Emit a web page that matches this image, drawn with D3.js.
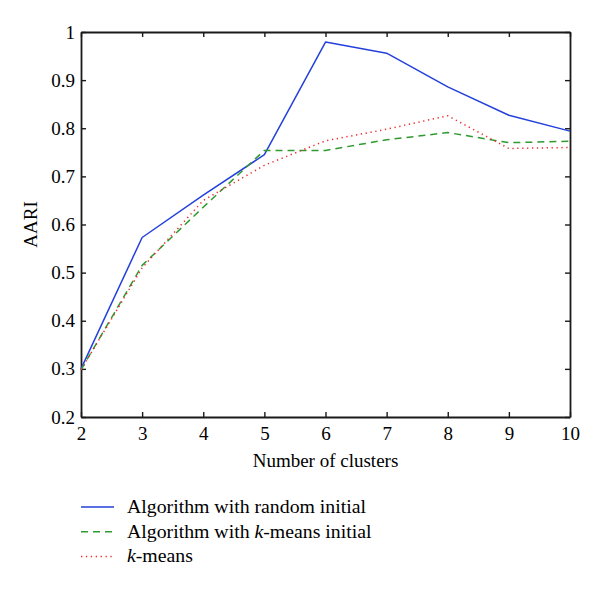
<!DOCTYPE html>
<html>
<head>
<meta charset="utf-8">
<script src="https://cdn.jsdelivr.net/npm/d3@7"></script>
<style>
  body { margin: 0; background: #fff; }
  svg { display: block; }
  text { font-family: "Liberation Serif", "DejaVu Serif", serif; fill: #000; }
  .axis path, .axis line { stroke: #1a1a1a; }
</style>
</head>
<body>
<svg id="chart"></svg>
<script>
// number of clusters
var clusters = [2, 3, 4, 5, 6, 7, 8, 9, 10];

// AARI values
var randomInit = [0.300, 0.573, 0.661, 0.745, 0.979, 0.956, 0.886, 0.827, 0.794];
var kmeansInit = [0.298, 0.515, 0.636, 0.754, 0.754, 0.776, 0.791, 0.770, 0.773];
var kmeansOnly = [0.298, 0.510, 0.650, 0.723, 0.774, 0.798, 0.826, 0.758, 0.760];

var yTicks = [0.2, 0.3, 0.4, 0.5, 0.6, 0.7, 0.8, 0.9, 1];

var seriesNames = ["random", "kmeansInit", "kmeans"];

var svgWidth = 600, svgHeight = 589;
var margin = { top: 32, right: 30, bottom: 172, left: 81 };
var width = svgWidth - margin.left - margin.right;
var height = svgHeight - margin.top - margin.bottom;

var svg = d3.select('#chart')
  .attr("width", svgWidth)
  .attr("height", svgHeight);

var g = svg.append("g")
  .attr("transform", "translate(" + margin.left + "," + margin.top + ")");

var x = d3.scaleLinear().domain([2, 10]).range([0, width]);
var y = d3.scaleLinear().domain([0.2, 1]).range([height, 0]);

var styles = {
  random: { color: "#2440dc", dash: null, width: 1.5 },
  kmeansInit: { color: "#2f9a2f", dash: "7,5", width: 1.5 },
  kmeans: { color: "#ec2a2a", dash: "1.3,3.6", width: 1.5 }
};

// axes, ticks pointing inward on all four sides
var fontSize = 19;

g.append("g")
  .attr("class", "axis")
  .attr("transform", "translate(0," + height + ")")
  .call(d3.axisBottom(x).tickValues(clusters).tickFormat(d3.format("d"))
    .tickSizeInner(-5).tickSizeOuter(0).tickPadding(10))
  .call(function (s) { s.selectAll("text").attr("font-size", fontSize).attr("fill", "#000"); });

g.append("g")
  .attr("class", "axis")
  .call(d3.axisLeft(y).tickValues(yTicks).tickFormat(function (d) { return d === 1 ? "1" : d3.format(".1f")(d); })
    .tickSizeInner(-5).tickSizeOuter(0).tickPadding(6))
  .call(function (s) { s.selectAll("text").attr("font-size", fontSize).attr("fill", "#000"); });

g.append("g")
  .attr("class", "axis")
  .call(d3.axisTop(x).tickValues(clusters).tickFormat("")
    .tickSizeInner(-5).tickSizeOuter(0));

g.append("g")
  .attr("class", "axis")
  .attr("transform", "translate(" + width + ",0)")
  .call(d3.axisRight(y).tickValues(yTicks).tickFormat("")
    .tickSizeInner(-5).tickSizeOuter(0));

g.selectAll(".axis path").attr("stroke-width", 1.8);
g.selectAll(".axis line").attr("stroke-width", 1.4);

// axis titles
g.append("text")
  .attr("x", width / 2)
  .attr("y", height + 50)
  .attr("text-anchor", "middle")
  .attr("font-size", fontSize)
  .text("Number of clusters");

g.append("text")
  .attr("transform", "translate(-44," + (height / 2) + ") rotate(-90)")
  .attr("text-anchor", "middle")
  .attr("font-size", fontSize)
  .text("AARI");

// lines
var seriesData = {
  random: randomInit,
  kmeansInit: kmeansInit,
  kmeans: kmeansOnly
};

var line = d3.line()
  .x(function (d, i) { return x(clusters[i]); })
  .y(function (d) { return y(d); });

seriesNames.forEach(function (name) {
  var st = styles[name];
  g.append("path")
    .datum(seriesData[name])
    .attr("fill", "none")
    .attr("stroke", st.color)
    .attr("stroke-width", st.width)
    .attr("stroke-dasharray", st.dash)
    .attr("stroke-linejoin", "round")
    .attr("d", line);
});

// legend
var legend = svg.append("g").attr("transform", "translate(81,507)");
var legendRows = [
  { key: "random", parts: [["Algorithm with random initial", false]] },
  { key: "kmeansInit", parts: [["Algorithm with ", false], ["k", true], ["-means initial", false]] },
  { key: "kmeans", parts: [["k", true], ["-means", false]] }
];

legendRows.forEach(function (row, i) {
  var st = styles[row.key];
  var rowG = legend.append("g").attr("transform", "translate(0," + (i * 24.7) + ")");
  rowG.append("line")
    .attr("x1", 0).attr("x2", 33)
    .attr("y1", 0).attr("y2", 0)
    .attr("stroke", st.color)
    .attr("stroke-width", st.width)
    .attr("stroke-dasharray", st.dash);
  var t = rowG.append("text")
    .attr("x", 46)
    .attr("y", 6)
    .attr("font-size", 19.8);
  row.parts.forEach(function (p) {
    t.append("tspan")
      .attr("font-style", p[1] ? "italic" : null)
      .text(p[0]);
  });
});
</script>
</body>
</html>
